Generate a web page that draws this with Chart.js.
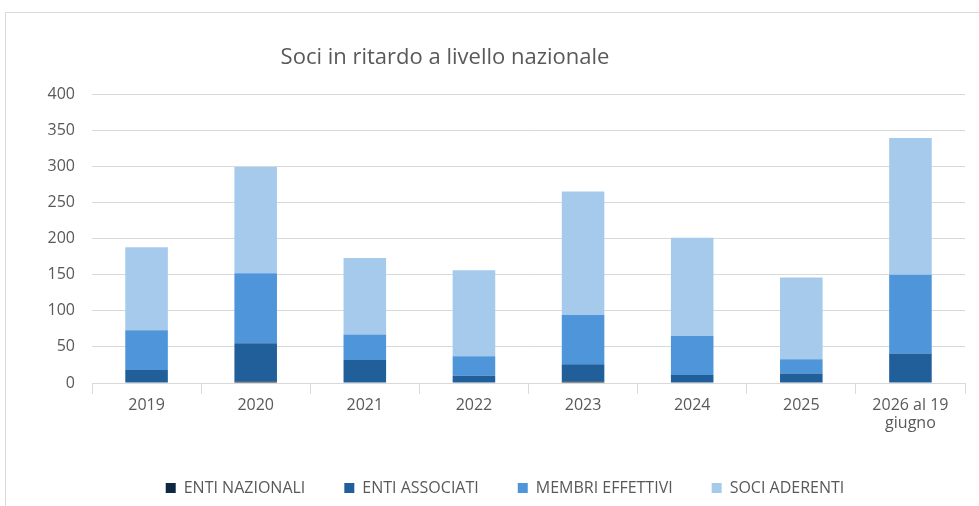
<!DOCTYPE html>
<html>
<head>
<meta charset="utf-8">
<script src="https://cdn.jsdelivr.net/npm/chart.js@4.4.1/dist/chart.umd.min.js"></script>
<style>
  html, body { margin: 0; padding: 0; background: #fff; }
  body { width: 979px; height: 506px; position: relative; overflow: hidden; font-family: "Open Sans", sans-serif; }
  #frame { position: absolute; left: 5px; top: 12px; width: 1100px; height: 700px; border: 1px solid #D9D9D9; box-sizing: border-box; }
  #title { position: absolute; left: 0; width: 890px; top: 40px; text-align: center; font-size: 22px; color: #595959; line-height: 30px; }
  #wrap { position: absolute; left: 0; top: 0; width: 979px; height: 506px; }
</style>
</head>
<body>
<div id="frame"></div>
<div id="wrap"><canvas id="c" width="979" height="506"></canvas></div>
<div id="title">Soci in ritardo a livello nazionale</div>
<script>
const categories = ['2019', '2020', '2021', '2022', '2023', '2024', '2025', ['2026 al 19', 'giugno']];
const entiNazionali   = [0, 2, 0, 0, 2, 0, 0, 0];
const entiAssociati   = [18, 53, 32, 10, 24, 11, 13, 41];
const membriEffettivi = [55, 97, 35, 27, 68, 54, 20, 109];
const sociAderenti    = [115, 147, 106, 119, 171, 136, 113, 189];
const yTicks = [0, 50, 100, 150, 200, 250, 300, 350, 400];

const textColor = '#595959';
const gridColor = '#D9D9D9';
const fam = '"Open Sans", sans-serif';

new Chart(document.getElementById('c'), {
  type: 'bar',
  data: {
    labels: categories,
    datasets: [
      { label: 'ENTI NAZIONALI', data: entiNazionali, backgroundColor: '#0E2841' },
      { label: 'ENTI ASSOCIATI', data: entiAssociati, backgroundColor: '#215F9A' },
      { label: 'MEMBRI EFFETTIVI', data: membriEffettivi, backgroundColor: '#4E95D9' },
      { label: 'SOCI ADERENTI', data: sociAderenti, backgroundColor: '#A6CAEC' }
    ]
  },
  options: {
    responsive: false,
    animation: false,
    devicePixelRatio: 1,
    layout: { padding: { left: 45, right: 14, top: 94, bottom: 0 } },
    datasets: { bar: { categoryPercentage: 1, barPercentage: 0.39, borderWidth: 0 } },
    plugins: {
      title: { display: false },
      tooltip: { enabled: false },
      legend: {
        position: 'bottom',
        labels: {
          boxWidth: 10, boxHeight: 10, padding: 39,
          color: textColor,
          font: { family: fam, size: 16 }
        }
      }
    },
    scales: {
      x: {
        stacked: true,
        grid: { offset: true, drawOnChartArea: false, drawTicks: true, tickLength: 11, color: gridColor },
        border: { display: true, color: gridColor },
        ticks: { color: textColor, padding: 3, font: { family: fam, size: 16, lineHeight: 1.1 }, maxRotation: 0, autoSkip: false },
        afterFit: s => { s.height = 58; }
      },
      y: {
        stacked: true,
        min: 0, max: 400,
        afterBuildTicks: s => { s.ticks = yTicks.map(v => ({ value: v })); },
        grid: { color: gridColor, drawTicks: false },
        border: { display: false },
        ticks: { color: textColor, padding: 17, font: { family: fam, size: 16 } },
        afterFit: s => { s.width = 47; }
      }
    }
  }
});
</script>
</body>
</html>
